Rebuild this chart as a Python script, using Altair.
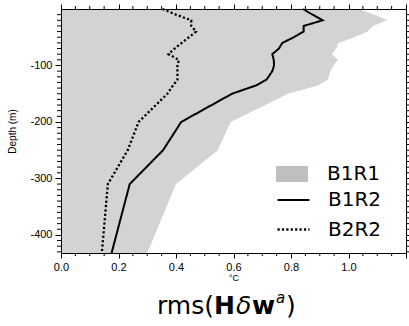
import altair as alt
import pandas as pd

# ---- data ----
depth = [0, -10, -20, -30, -40, -50, -60, -70, -80, -90, -100, -110, -125, -135, -150, -200, -250, -310, -432]
b1r1 = [1.035, 1.09, 1.135, 1.085, 1.066, 1.02, 0.965, 0.958, 0.942, 0.963, 0.948, 0.937, 0.928, 0.896, 0.79, 0.59, 0.545, 0.40, 0.30]
b1r2 = [0.841, 0.875, 0.91, 0.844, 0.844, 0.81, 0.77, 0.758, 0.735, 0.74, 0.741, 0.735, 0.715, 0.68, 0.595, 0.418, 0.355, 0.239, 0.176]
b2r2 = [0.353, 0.40, 0.453, 0.453, 0.47, 0.445, 0.42, 0.395, 0.374, 0.41, 0.405, 0.405, 0.405, 0.39, 0.37, 0.27, 0.232, 0.163, 0.142]
series_names = ["B1R1", "B1R2", "B2R2"]

x_major = [0.0, 0.2, 0.4, 0.6, 0.8, 1.0, 1.2]
x_labels_at = [0.0, 0.2, 0.4, 0.6, 0.8, 1.0]
x_minor = [0.05, 0.1, 0.15, 0.25, 0.3, 0.35, 0.45, 0.5, 0.55, 0.65, 0.7, 0.75,
           0.85, 0.9, 0.95, 1.05, 1.1, 1.15]
y_major = [-100, -200, -300, -400]
y_minor = [d for d in range(-430, 0, 10) if d % 100 != 0]
x_title = "°C"
y_title = "Depth (m)"
title_pieces = ["rms(", "H", "δ", "w", "a", ")"]

n = len(depth)
df_area = pd.DataFrame({"depth": depth, "value": b1r1, "series": series_names[0]})
df_lines = pd.DataFrame({
    "depth": depth * 2,
    "value": b1r2 + b2r2,
    "series": [series_names[1]] * n + [series_names[2]] * n,
    "idx": list(range(n)) * 2,
})
df_xminor = pd.DataFrame({"v": x_minor})
df_yminor = pd.DataFrame({"v": y_minor})

FONT = "Liberation Sans"
LFONT = "DejaVu Sans"
W, H = 345, 244
xscale = alt.Scale(domain=[0, 1.2], nice=False, zero=False)
yscale = alt.Scale(domain=[-432, 0], nice=False, zero=False)

common_axis = dict(domain=True, domainColor="black", domainWidth=1, tickColor="black",
                   tickWidth=1, grid=False, labelOverlap=False, labelFlush=False, zindex=1,
                   labelFont=FONT, labelColor="black", labelFontSize=11)

x_bottom = alt.Axis(orient="bottom", values=x_major, tickSize=5,
                    labelExpr="datum.value < 1.1 ? format(datum.value, '.1f') : ''",
                    labelPadding=3, title=x_title, titleFont=FONT, titleFontSize=9,
                    titleFontWeight="normal", titlePadding=1, titleColor="black", **common_axis)
y_left = alt.Axis(orient="left", values=y_major, tickSize=6,
                  labelExpr="'' + datum.value",
                  labelPadding=3, title=y_title, titleFont=FONT, titleFontSize=10,
                  titleFontWeight="normal", titlePadding=12, titleColor="black", **common_axis)
x_top = alt.Axis(orient="top", values=x_major, tickSize=5, labels=False, title=None, **common_axis)
y_right = alt.Axis(orient="right", values=y_major, tickSize=5, labels=False, title=None, **common_axis)

area = alt.Chart(df_area).mark_area(orient="horizontal", color="#d3d3d3").encode(
    x=alt.X("value:Q", scale=xscale, axis=x_bottom, stack=None),
    x2=alt.datum(0),
    y=alt.Y("depth:Q", scale=yscale, axis=y_left),
)

legend_fill = alt.Chart(df_area).mark_point(opacity=0, filled=True).encode(
    x=alt.X("value:Q", scale=xscale, axis=None),
    y=alt.Y("depth:Q", scale=yscale, axis=None),
    fill=alt.Fill("series:N", scale=alt.Scale(domain=[series_names[0]], range=["#bfbfbf"]),
                  legend=alt.Legend(title=None, orient="none", legendX=215, legendY=149,
                                    symbolType="M-1,-0.5L1,-0.5L1,0.5L-1,0.5Z", symbolSize=1024,
                                    symbolOpacity=1, symbolStrokeWidth=0,
                                    labelFont=LFONT, labelFontSize=20, labelColor="black",
                                    labelOffset=19)),
)

lines = alt.Chart(df_lines).mark_line(color="black").encode(
    x=alt.X("value:Q", scale=xscale, axis=x_top),
    y=alt.Y("depth:Q", scale=yscale, axis=y_right),
    order=alt.Order("idx:Q"),
    strokeDash=alt.StrokeDash("series:N",
                              scale=alt.Scale(domain=series_names[1:], range=[[1, 0], [2.2, 2.2]]),
                              legend=alt.Legend(title=None, orient="none", legendX=215, legendY=174,
                                                symbolType="stroke", symbolSize=1024,
                                                symbolStrokeWidth=2, symbolStrokeColor="black",
                                                labelFont=LFONT, labelFontSize=20, labelColor="black",
                                                labelOffset=17, rowPadding=2)),
    strokeWidth=alt.StrokeWidth("series:N",
                                scale=alt.Scale(domain=series_names[1:], range=[2, 2.3]),
                                legend=None),
)

# minor ticks, positioned through the shared scales
tick_bottom = alt.Chart(df_xminor).mark_rule(color="black", strokeWidth=1).encode(
    x=alt.X("v:Q", scale=xscale, axis=None), y=alt.value(H), y2=alt.value(H + 3))
tick_top = alt.Chart(df_xminor).mark_rule(color="black", strokeWidth=1).encode(
    x=alt.X("v:Q", scale=xscale, axis=None), y=alt.value(-3), y2=alt.value(0))
tick_left = alt.Chart(df_yminor).mark_rule(color="black", strokeWidth=1).encode(
    y=alt.Y("v:Q", scale=yscale, axis=None), x=alt.value(-4), x2=alt.value(0))
tick_right = alt.Chart(df_yminor).mark_rule(color="black", strokeWidth=1).encode(
    y=alt.Y("v:Q", scale=yscale, axis=None), x=alt.value(W), x2=alt.value(W + 3))

one = pd.DataFrame({"a": [0]})
# title pieces: (text, left x, baseline y, size, weight, style)
specs = [
    (title_pieces[0], 96, 305, 25, "normal", "normal"),
    (title_pieces[1], 153, 305, 25, "bold", "normal"),
    (title_pieces[2], 175, 305, 25, "normal", "italic"),
    (title_pieces[3], 191, 305, 25, "bold", "normal"),
    (title_pieces[4], 215, 294, 15, "normal", "italic"),
    (title_pieces[5], 225, 305, 25, "normal", "normal"),
]
texts = []
for t, xx, yy, sz, wt, st in specs:
    texts.append(alt.Chart(one).mark_text(text=t, align="left", baseline="alphabetic", font=LFONT,
                                          fontSize=sz, fontWeight=wt, fontStyle=st, color="black")
                 .encode(x=alt.value(xx), y=alt.value(yy)))

chart = alt.layer(area, legend_fill, lines, tick_bottom, tick_top, tick_left, tick_right, *texts
                  ).resolve_axis(x="independent", y="independent").properties(
    width=W, height=H,
    autosize=alt.AutoSizeParams(type="none"),
    padding={"left": 61, "top": 9, "right": 3, "bottom": 73},
    background="white",
).configure_view(stroke=None)

chart.save("out.html", embed_options={"renderer": "svg", "actions": False})
